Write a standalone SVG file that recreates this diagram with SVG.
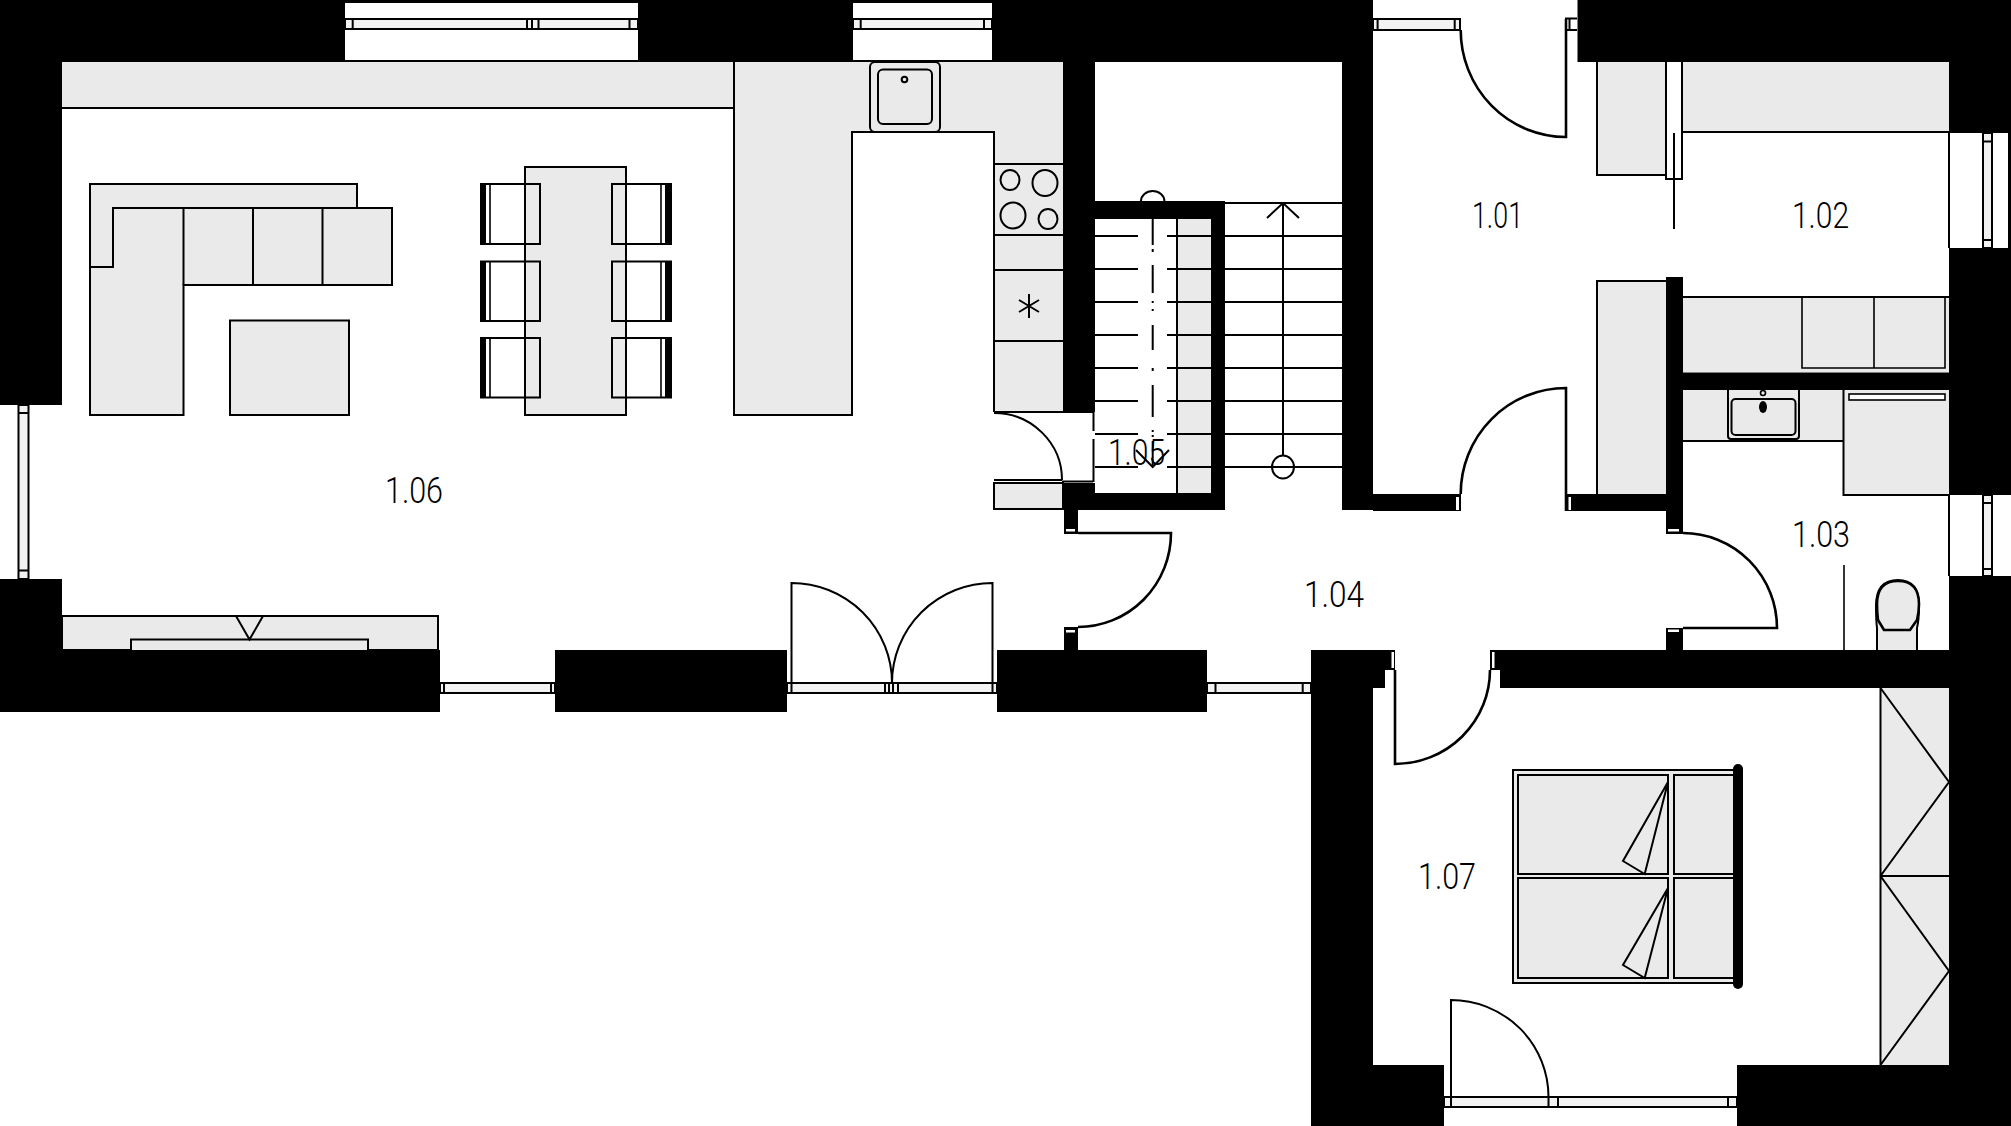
<svg xmlns="http://www.w3.org/2000/svg" width="2011" height="1126" viewBox="0 0 2011 1126">
<style>
.w{fill:#000;stroke:none}
.g{fill:#eaeaea;stroke:none}
.o{fill:#eaeaea;stroke:#000;stroke-width:2}
.l{fill:none;stroke:#000;stroke-width:2}
.t{fill:none;stroke:#000;stroke-width:1.6}
.d{fill:none;stroke:#000;stroke-width:2.6}
.wh{fill:#fff;stroke:none}
.pane{fill:#f2f2f2;stroke:#000;stroke-width:2}
.n{fill:#fff;stroke:none}
text{font-family:"Roboto","Liberation Sans",sans-serif;font-weight:300;font-size:36px;fill:#000}
</style>
<rect width="2011" height="1126" fill="#fff"/>

<g id="living-furniture">
<rect class="g" x="62" y="62" width="672" height="46"/>
<path class="l" d="M62 108H734"/>
<path class="o" d="M90 184H357V208H113V267H90Z"/>
<path class="o" d="M113 208H392V285H183.500V415H90V267H113Z"/>
<path class="l" d="M183.500 208V285M253 208V285M322.500 208V285"/>
<rect class="o" x="230" y="320.500" width="119" height="94.500"/>
<rect class="o" x="525" y="167" width="101" height="248"/>
<g id="chairs">
<path class="t" d="M490 184V244M490 261.500V321M490 338V397.500M661 184V244M661 261.500V321M661 338V397.500"/>
<path class="l" d="M481 184H540V244H481ZM481 261.500H540V321H481ZM481 338H540V397.500H481Z"/>
<path class="l" d="M612 184H671V244H612ZM612 261.500H671V321H612ZM612 338H671V397.500H612Z"/>
<path class="w" d="M480 184h6v60h-6zM480 261.500h6v60h-6zM480 338h6v60h-6zM665 184h6v60h-6zM665 261.500h6v60h-6zM665 338h6v60h-6z"/>
</g>
<path class="o" d="M62 616H438V650H62Z"/>
<path class="o" d="M131 650V639.500H368V650"/>
<path class="l" d="M236 616L249.500 639.500L263 616"/>
</g>

<g id="kitchen">
<path class="g" d="M734 62H1063V412H994V132H852V415H734Z"/>
<path class="l" d="M734 62V415H852V132H994V412"/>
<rect x="870" y="62" width="70" height="70" rx="5" class="o"/>
<rect x="878" y="69.500" width="54" height="54.500" rx="5" class="l"/>
<circle cx="904.500" cy="79.500" r="2.800" class="l"/>
<path class="l" d="M994 164H1063M994 235H1063M994 270H1063M994 341H1063"/>
<ellipse cx="1010" cy="180" rx="9.500" ry="10" class="l"/>
<ellipse cx="1045" cy="183" rx="12.500" ry="13" class="l"/>
<ellipse cx="1013" cy="215.500" rx="12.500" ry="13" class="l"/>
<ellipse cx="1048" cy="219" rx="9.500" ry="10" class="l"/>
<path class="l" d="M1029 294V318M1019 300L1039 312M1019 312L1039 300"/>
<rect class="o" x="994" y="483" width="69" height="26"/>
<path class="l" d="M994 480H1062"/>
<path class="l" d="M994 413A68 67 0 0 1 1062 480M994 412H1093M1093.500 412V431M1093.500 439V482M1062 481.500H1093"/>
</g>

<g id="stairs">
<rect class="g" x="1177" y="219" width="34" height="274"/>
<path class="l" d="M1177 219V493"/>
<path class="l" d="M1095 236H1138M1167 236H1211M1095 269H1138M1167 269H1211M1095 302H1138M1167 302H1211M1095 335H1138M1167 335H1211M1095 368H1138M1167 368H1211M1095 401H1138M1167 401H1211M1095 434H1138M1167 434H1211M1095 467H1138M1167 467H1211"/>
<path class="l" d="M1152.700 219V245M1152.700 249V252M1152.700 265V293M1152.700 301V303M1152.700 309V311M1152.700 325V350M1152.700 368V371M1152.700 385V417M1152.700 430V432M1152.700 435V437M1152.700 441V466"/>
<path class="l" d="M1141 201A11.700 10 0 0 1 1164.400 201"/>
<path class="l" d="M1136 450L1152.700 467L1169 450"/>
<path class="l" d="M1225 203H1342M1225 236H1342M1225 269H1342M1225 302H1342M1225 335H1342M1225 368H1342M1225 401H1342M1225 434H1342M1225 467H1342"/>
<path class="l" d="M1283 203V456M1267 218L1283 203L1299 218"/>
<ellipse cx="1283" cy="467" rx="11" ry="11.500" class="l"/>
</g>

<g id="bath-wardrobe">
<rect class="g" x="1596" y="62" width="70" height="113"/>
<path class="l" d="M1597 62V175H1666"/>
<rect class="g" x="1683" y="62" width="266" height="70"/>
<path class="l" d="M1683 132H1949M1666 62V179H1682V62M1674 133V229"/>
<rect class="g" x="1596" y="281" width="70" height="213"/>
<path class="l" d="M1597 494V281H1666"/>
<rect class="g" x="1683" y="297" width="266" height="75"/>
<path class="l" d="M1683 297H1949"/>
<path class="t" d="M1802 297V368H1945V297M1874 297V368"/>
<rect class="g" x="1683" y="390" width="160" height="51"/>
<path class="l" d="M1683 441H1843"/>
<rect class="g" x="1843" y="390" width="106" height="105"/>
<path class="l" d="M1843.500 390V495H1949"/>
<rect x="1849" y="394" width="96" height="6" fill="#fff" stroke="#000" stroke-width="1.600"/>
<path class="l" d="M1728 390V436Q1728 439 1731 439H1796Q1799 439 1799 436V390"/>
<rect x="1731.500" y="399" width="64" height="36" rx="4" class="l"/>
<circle cx="1763" cy="393" r="2.500" class="t"/>
<ellipse cx="1763" cy="407" rx="4" ry="6" class="w"/>
<path class="o" d="M1877 650L1877 628Q1876 620 1876 606Q1876 580 1898 580Q1919 580 1919 606Q1919 620 1917 628L1917 650"/>
<path class="d" d="M1884 630H1910L1917 620Q1919 612 1919 604Q1919 581 1898 581Q1877 581 1877 604Q1877 612 1878 620Z" style="fill:#eaeaea"/>
<path class="t" d="M1844 565V650"/>
</g>

<g id="bedroom">
<rect class="g" x="1880.500" y="688" width="68.500" height="377"/>
<path class="l" d="M1880.500 688V1065M1880.500 876H1949M1880.500 688L1949 782L1880.500 876L1949 971L1880.500 1065"/>
<rect class="o" x="1513" y="770" width="224" height="213"/>
<rect class="o" x="1518" y="775" width="150" height="99"/>
<rect class="o" x="1518" y="878" width="150" height="100"/>
<rect class="o" x="1674" y="775" width="60" height="99"/>
<rect class="o" x="1674" y="878" width="60" height="100"/>
<path class="o" d="M1668 782L1623 861L1644.700 874L1668 782"/>
<path class="o" d="M1668 888L1623 965L1644.700 978L1668 888"/>
<rect x="1733" y="764" width="10" height="225" rx="5"/>
</g>

<g id="walls">
<path class="w" d="M0 0H345V62H62V405H0Z"/>
<path class="w" d="M345 0H992V3H345ZM345 60H992V62H345ZM638 0H853V62H638Z"/>
<path class="w" d="M992 0H1373V510H1342V62H1095V201H1225V510H1078V534H1064V510H1063V483H1095V493H1211V219H1095V412H1063V62H992Z"/>
<path class="w" d="M1373 494H1461V511H1373Z"/>
<path class="w" d="M1566 494H1666V277H1683V534H1666V511H1566Z"/>
<path class="w" d="M1577.500 0H2011V248H1949V62H1577.500Z"/>
<path class="w" d="M1683 372.500H1949V390H1683Z"/>
<path class="w" d="M1949 248H2011V495H1949Z"/>
<path class="w" d="M1949 576H2011V1126H1737V1065H1949Z"/>
<path class="w" d="M0 579H62V650H440V712H0Z"/>
<path class="w" d="M555 650H787V712H555Z"/>
<path class="w" d="M997 650H1207V712H997Z"/>
<path class="w" d="M1064 627H1078V650H1064Z"/>
<path class="w" d="M1666 628H1683V650H1666Z"/>
<path class="w" d="M1311 650H1395V670H1385V688H1373V1065H1444V1126H1311Z"/>
<path class="w" d="M1490 650H1949V688H1500V670H1490Z"/>
<g class="n">
<rect x="1066" y="529" width="9" height="2.500"/>
<rect x="1066" y="630" width="9" height="2.500"/>
<rect x="1668" y="529" width="11" height="2.500"/>
<rect x="1668" y="629.500" width="11" height="2.500"/>
<rect x="1456" y="497" width="3" height="13"/>
<rect x="1568.500" y="497" width="2.500" height="13"/>
<rect x="1391.500" y="652" width="2.500" height="16"/>
<rect x="1492" y="652" width="2.500" height="16"/>
</g>
</g>

<g id="windows">
<rect class="wh" x="345" y="3" width="293" height="57"/>
<rect class="pane" x="345" y="19" width="293" height="10"/>
<path class="l" d="M352.700 19V29M527 19V29M532 19V29M538.500 19V29M629.500 19V29"/>
<rect class="wh" x="853" y="3" width="139" height="57"/>
<rect class="pane" x="853" y="19" width="139" height="10"/>
<path class="l" d="M860.700 19V29M984 19V29"/>
<rect class="pane" x="1373" y="19" width="87" height="11"/>
<path class="l" d="M1377.600 19V30M1454.700 19V30"/>
<path class="l" d="M1577 18.500H1566V30H1577M1569.500 19V30"/>
<rect class="pane" x="18.500" y="405" width="10" height="174"/>
<path class="l" d="M18.500 413H28.500M18.500 570.500H28.500"/>
<rect class="wh" x="1949" y="133" width="59" height="115"/>
<rect class="pane" x="1983" y="133" width="9" height="115"/>
<path class="l" d="M1983 141.500H1992M1983 240H1992"/>
<rect class="wh" x="1949" y="495" width="59" height="81"/>
<rect class="pane" x="1983" y="495" width="9" height="81"/>
<path class="l" d="M1983 503H1992M1983 569H1992"/>
<path class="l" d="M1949 133V248M1949 495V576"/>
<rect class="pane" x="440" y="683" width="115" height="10"/>
<path class="l" d="M444 683V693M551 683V693"/>
<rect class="pane" x="787" y="683" width="210" height="10"/>
<path class="l" d="M791.500 683V693M885 683V693M889 683V693M893 683V693M898 683V693M992.500 683V693"/>
<rect class="pane" x="1207" y="683" width="104" height="10"/>
<path class="l" d="M1215.500 683V693M1302.700 683V693"/>
<rect class="pane" x="1444" y="1097" width="293" height="10"/>
<path class="l" d="M1451 1097V1107M1548.500 1097V1107M1558 1097V1107M1728 1097V1107"/>
</g>

<g id="doors">
<path class="d" d="M1460.700 30A105.300 107 0 0 0 1566 137V19"/>
<path class="d" d="M1460.700 494A105.300 106 0 0 1 1566 388V511"/>
<path class="d" d="M1078 533H1171A93 94 0 0 1 1078 627"/>
<path class="d" d="M1683 533A94 95 0 0 1 1777 628H1683"/>
<path class="d" d="M1395 670V764A95 94 0 0 0 1490 670"/>
<path class="l" d="M1451 1097V1000A97.500 97 0 0 1 1548.500 1097"/>
<path class="l" d="M791.500 683V583A100.500 100 0 0 1 892 683"/>
<path class="l" d="M992.500 683V583A100.500 100 0 0 0 892 683"/>
</g>

<g id="labels">
<text x="1472" y="228" textLength="51" lengthAdjust="spacingAndGlyphs">1.01</text>
<text x="1792" y="228" textLength="57" lengthAdjust="spacingAndGlyphs">1.02</text>
<text x="1792" y="547" textLength="58" lengthAdjust="spacingAndGlyphs">1.03</text>
<text x="1304" y="607" textLength="60" lengthAdjust="spacingAndGlyphs">1.04</text>
<text x="1108" y="465" textLength="57" lengthAdjust="spacingAndGlyphs">1.05</text>
<text x="385" y="503" textLength="58" lengthAdjust="spacingAndGlyphs">1.06</text>
<text x="1418" y="889" textLength="58" lengthAdjust="spacingAndGlyphs">1.07</text>
</g>
</svg>
